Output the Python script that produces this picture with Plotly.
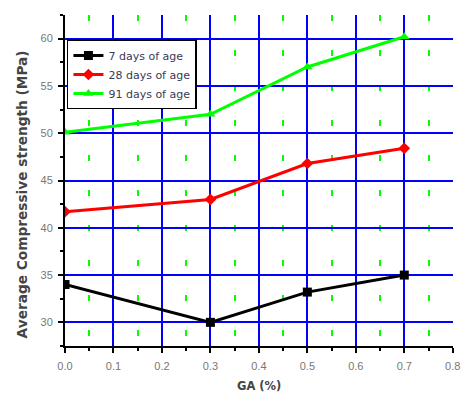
import plotly.graph_objects as go

# GA content (%) and average compressive strength (MPa) by curing age
ga = [0.0, 0.3, 0.5, 0.7]
days7 = [34.0, 30.0, 33.2, 35.0]
days28 = [41.7, 43.0, 46.8, 48.4]
days91 = [50.1, 52.0, 57.0, 60.2]

x_ticks = [0.0, 0.1, 0.2, 0.3, 0.4, 0.5, 0.6, 0.7, 0.8]
x_ticklabels = ["0.0", "0.1", "0.2", "0.3", "0.4", "0.5", "0.6", "0.7", "0.8"]
x_title = "GA (%)"
y_title = "Average Compressive strength (MPa)"

series = [
    ("7 days of age", days7, "#000000", "square"),
    ("28 days of age", days28, "#ff0000", "diamond"),
    ("91 days of age", days91, "#00ff00", "triangle-up"),
]

fig = go.Figure()
for name, vals, color, sym in series:
    fig.add_trace(go.Scatter(
        x=ga, y=vals, name=name, mode="lines+markers",
        line=dict(color=color, width=3),
        marker=dict(symbol=sym, size=9, color=color),
    ))

axis_font = dict(family="Liberation Sans, Arial, sans-serif", size=11, color="#777777")
title_font = dict(family="DejaVu Sans, sans-serif", color="#444444")

fig.update_layout(
    width=462, height=395,
    margin=dict(l=65, r=9, t=15, b=49),
    paper_bgcolor="white", plot_bgcolor="white",
    showlegend=True,
    legend=dict(
        x=0.005, y=0.926, xanchor="left", yanchor="top",
        bgcolor="white", bordercolor="#000000", borderwidth=1.5,
        font=dict(family="DejaVu Sans, sans-serif", size=11, color="#3a3a55"),
        tracegroupgap=0, itemsizing="trace",
    ),
    xaxis=dict(
        range=[0, 0.8005], tickvals=x_ticks, ticktext=x_ticklabels,
        automargin=False, ticklabeloverflow="allow", ticklabelstandoff=4,
        showline=True, linecolor="black", linewidth=2,
        ticks="outside", ticklen=5, tickwidth=2, tickcolor="black",
        showgrid=True, gridcolor="#0000ff", gridwidth=2,
        zeroline=False, tickfont=axis_font,
        minor=dict(dtick=0.1, tick0=0.05, ticks="outside", ticklen=3,
                   tickcolor="black", tickwidth=1.5,
                   showgrid=True, gridcolor="#00ff00", gridwidth=2,
                   griddash="6px,29px"),
    ),
    yaxis=dict(
        range=[27.5, 62.5], dtick=5, tick0=30, ticklabelstandoff=3,
        automargin=False,
        showline=True, linecolor="black", linewidth=2,
        ticks="outside", ticklen=5, tickwidth=2, tickcolor="black",
        showgrid=True, gridcolor="#0000ff", gridwidth=2,
        zeroline=False, tickfont=axis_font,
        minor=dict(dtick=2.5, tick0=27.5, ticks="outside", ticklen=3,
                   tickcolor="black", tickwidth=1.5, showgrid=False),
    ),
)

# axis titles as paper-positioned annotations
fig.add_annotation(
    text="<b>" + x_title + "</b>", xref="paper", yref="paper",
    x=0.5, y=-0.12, xanchor="center", yanchor="middle", showarrow=False,
    font=dict(size=11.5, **title_font),
)
fig.add_annotation(
    text="<b>" + y_title + "</b>", xref="paper", yref="paper",
    x=-0.11, y=0.459, xanchor="center", yanchor="middle", showarrow=False,
    textangle=-90, font=dict(size=13.7, **title_font),
)

fig.write_html("out.html")
